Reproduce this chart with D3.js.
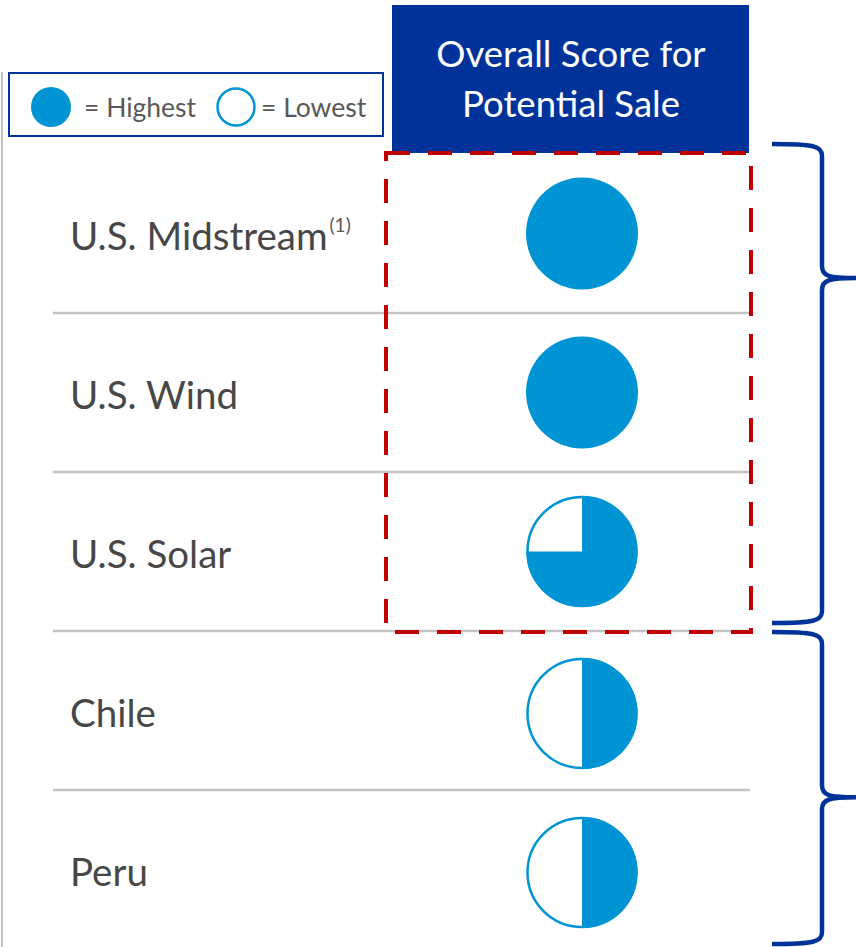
<!DOCTYPE html>
<html>
<head>
<meta charset="utf-8">
<script src="https://cdn.jsdelivr.net/npm/d3@7"></script>
<style>
  html, body { margin: 0; padding: 0; background: #fff; }
  svg { display: block; }
</style>
</head>
<body>
<svg id="chart" width="856" height="947"></svg>
<script>
// Business lines and their overall score for a potential sale (1 = full circle)
const categories = ["U.S. Midstream", "U.S. Wind", "U.S. Solar", "Chile", "Peru"];
const footnotes = ["(1)", "", "", "", ""];
const scores = [1, 1, 0.75, 0.5, 0.5];
const headerLines = ["Overall Score for", "Potential Sale"];
const legendItems = ["= Highest", "= Lowest"];
const legendScores = [1, 0];
// Groups marked by braces on the right (first/last category index)
const groupFirst = [0, 3];
const groupLast = [2, 4];
const groupTip = [0.28, 0.53];
// Highlighted categories (dashed frame)
const highlightFirst = 0, highlightLast = 2;

const W = 856, H = 947;
const BLUE_DARK = "#003399";
const BLUE = "#0094d4";
const RED = "#c00000";
const GREY = "#c4c4c4";
const TEXT = "#474747";
const FONT = "Lato, 'Open Sans', sans-serif";

const svg = d3.select("#chart");

const y = d3.scaleBand().domain(categories).range([154, 949]).paddingInner(0).paddingOuter(0);
const bw = y.bandwidth();
const cx = 582;
const r = 55;
const arc = d3.arc();

// left rule
svg.append("line").attr("x1", 2).attr("x2", 2).attr("y1", 72).attr("y2", H)
  .attr("stroke", GREY).attr("stroke-width", 2);

// header box
svg.append("rect").attr("x", 392).attr("y", 5).attr("width", 357).attr("height", 148)
  .attr("fill", BLUE_DARK);
svg.append("g").selectAll("text").data(headerLines).join("text")
  .attr("x", 571).attr("y", (d, i) => 67 + i * 50)
  .attr("text-anchor", "middle")
  .attr("fill", "#fff").attr("font-family", FONT).attr("font-size", 36.5)
  .text(d => d);

// legend
const lg = svg.append("g");
lg.append("rect").attr("x", 9).attr("y", 73).attr("width", 374).attr("height", 63)
  .attr("fill", "#fff").attr("stroke", BLUE_DARK).attr("stroke-width", 2);
const legendX = [51, 236];
const legendTextX = [84, 261];
legendScores.forEach((s, i) => {
  if (s >= 1) {
    lg.append("circle").attr("cx", legendX[i]).attr("cy", 107).attr("r", 20).attr("fill", BLUE);
  } else {
    lg.append("circle").attr("cx", legendX[i]).attr("cy", 107).attr("r", 18.5)
      .attr("fill", "#fff").attr("stroke", BLUE).attr("stroke-width", 2.5);
  }
  lg.append("text").attr("x", legendTextX[i]).attr("y", 117)
    .attr("fill", "#595959").attr("font-family", FONT).attr("font-size", 26.5)
    .text(legendItems[i]);
});

// row separators
svg.append("g").selectAll("line").data(categories.slice(0, -1)).join("line")
  .attr("x1", 53).attr("x2", 750)
  .attr("y1", d => y(d) + bw).attr("y2", d => y(d) + bw)
  .attr("stroke", GREY).attr("stroke-width", 2.5);

// row labels
const labels = svg.append("g").selectAll("text").data(categories).join("text")
  .attr("x", 70).attr("y", d => y(d) + bw / 2 + 16)
  .attr("fill", TEXT).attr("font-family", FONT).attr("font-size", 38.5);
labels.append("tspan").text(d => d);
labels.append("tspan").attr("dx", 2).attr("dy", -18).attr("font-size", 19).attr("fill", "#595959")
  .text((d, i) => footnotes[i]);

// score circles (filled clockwise from 12 o'clock)
const marks = svg.append("g").selectAll("g").data(categories).join("g")
  .attr("transform", (d, i) => `translate(${cx},${y(d) + bw / 2 + (i > 2 ? 3 : 0)})`);
marks.each(function (d, i) {
  const g = d3.select(this);
  const s = scores[i];
  if (s >= 1) {
    g.append("circle").attr("r", r + 1).attr("fill", BLUE);
  } else {
    g.append("circle").attr("r", r - 0.5).attr("fill", "#fff")
      .attr("stroke", BLUE).attr("stroke-width", 2.5);
    g.append("path").attr("fill", BLUE)
      .attr("d", arc({innerRadius: 0, outerRadius: r + 0.5, startAngle: 0, endAngle: 2 * Math.PI * s}));
  }
});

// dashed highlight frame
const hy0 = y(categories[highlightFirst]) - 1;
const hy1 = y(categories[highlightLast]) + bw + 1;
svg.append("rect").attr("x", 386).attr("y", hy0).attr("width", 365).attr("height", hy1 - hy0)
  .attr("fill", "none").attr("stroke", RED).attr("stroke-width", 4)
  .attr("stroke-dasharray", "24,18");

// braces on the right
function brace(top, bottom, tip) {
  const x0 = 772, xv = 822, xt = 858, c = 12;
  return `M${x0},${top} C${xv - 8},${top} ${xv},${top + 2} ${xv},${top + c}` +
    ` L${xv},${tip - c} C${xv},${tip - 2} ${xv + 6},${tip} ${xt},${tip}` +
    ` C${xv + 6},${tip} ${xv},${tip + 2} ${xv},${tip + c}` +
    ` L${xv},${bottom - c} C${xv},${bottom - 2} ${xv - 8},${bottom} ${x0},${bottom}`;
}
const braceTop = [y(categories[groupFirst[0]]) - 10, y(categories[groupFirst[1]]) + 1];
const braceBottom = [y(categories[groupLast[0]]) + bw - 8, H - 3];
svg.append("g").selectAll("path").data(groupFirst).join("path")
  .attr("d", (d, i) => {
    const t = braceTop[i], b = braceBottom[i];
    return brace(t, b, t + (b - t) * groupTip[i]);
  })
  .attr("fill", "none").attr("stroke", BLUE_DARK).attr("stroke-width", 4.5);
</script>
</body>
</html>
